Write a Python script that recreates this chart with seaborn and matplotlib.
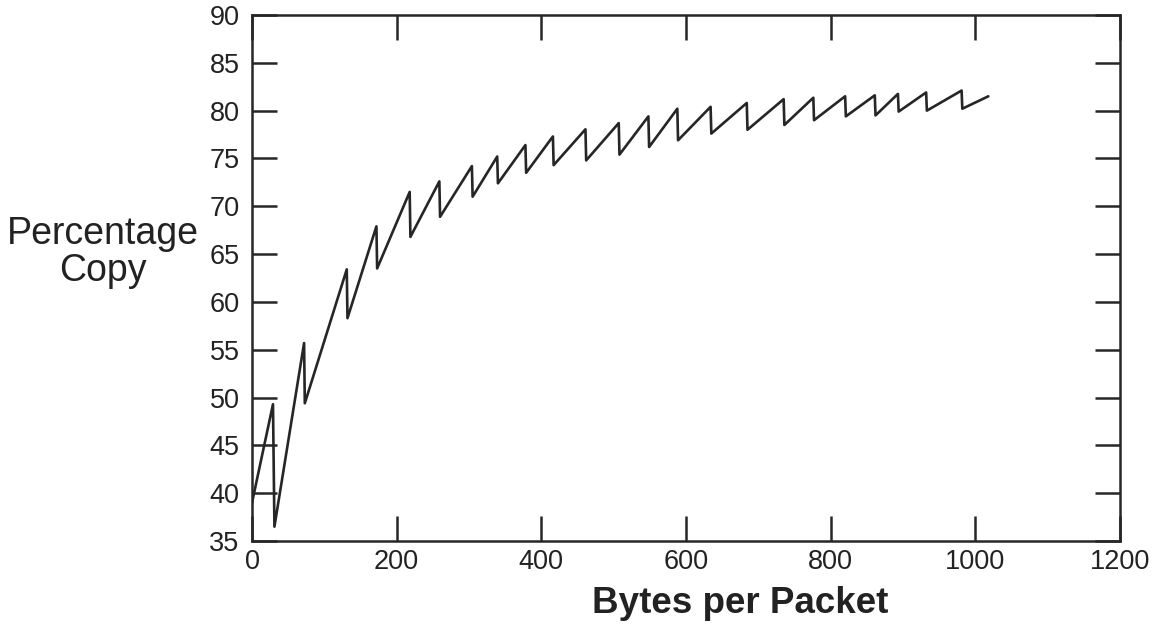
import matplotlib
matplotlib.use("Agg")
import matplotlib.pyplot as plt
import seaborn as sns
import pandas as pd

# Data (sawtooth: rise to a peak, then near-vertical drop)
bytes_per_packet = [0, 29, 31, 72, 73, 131, 132, 172, 173, 218, 219, 259, 260,
                    304, 305, 339, 340, 378, 379, 416, 417, 461, 462, 507, 508,
                    548, 549, 588, 589, 634, 635, 684, 685, 735, 736, 776, 777,
                    820, 821, 861, 862, 893, 894, 932, 933, 981, 982, 1018]
percentage_copy = [39.0, 49.3, 36.5, 55.7, 49.4, 63.4, 58.3, 67.9, 63.5, 71.5, 66.8,
                   72.6, 68.9, 74.2, 71.0, 75.2, 72.4, 76.4, 73.5, 77.3, 74.3,
                   78.05, 74.8, 78.7, 75.4, 79.4, 76.2, 80.2, 76.9, 80.4, 77.6,
                   80.8, 78.0, 81.2, 78.5, 81.35, 79.0, 81.5, 79.4, 81.6, 79.5,
                   81.75, 79.9, 81.9, 80.0, 82.1, 80.2, 81.5]

x_ticks = [0, 200, 400, 600, 800, 1000, 1200]
y_ticks = [35, 40, 45, 50, 55, 60, 65, 70, 75, 80, 85, 90]

df = pd.DataFrame({"Bytes": bytes_per_packet, "Pct": percentage_copy})

sns.set_theme(style="white")
plt.rcParams["font.family"] = ["Liberation Sans", "DejaVu Sans"]

fig = plt.figure(figsize=(11.53, 6.25), dpi=100)
ax = fig.add_axes([252 / 1153, 1 - 541 / 625, (1120 - 252) / 1153, (541 - 15) / 625])

ink = "#262626"
sns.lineplot(data=df, x="Bytes", y="Pct", sort=False, estimator=None,
             color=ink, linewidth=1.9, ax=ax)

ax.set_xlim(0, 1200)
ax.set_ylim(35, 90)
ax.set_xticks(x_ticks)
ax.set_yticks(y_ticks)
ax.set_xticklabels([str(v) for v in x_ticks])
ax.set_yticklabels([str(v) for v in y_ticks])

for side in ["left", "right", "top", "bottom"]:
    ax.spines[side].set_visible(True)
    ax.spines[side].set_color(ink)
    ax.spines[side].set_linewidth(1.8)

ax.tick_params(axis="both", which="major", direction="in", length=18, width=1.8,
               color=ink, labelsize=19.5, labelcolor="#222222")
ax.tick_params(axis="x", top=True, bottom=True, pad=6)
ax.tick_params(axis="y", left=True, right=True, pad=9)

ax.set_xlabel("Bytes per Packet", fontsize=26.5, fontweight="bold", color="#222222")
ax.xaxis.set_label_coords(0.563, -0.118)
ax.xaxis.label.set_va("center")

ax.set_ylabel("Percentage\nCopy", fontsize=27, rotation=0, color="#222222",
              ha="center", va="center", linespacing=1.05)
ax.yaxis.set_label_coords(-0.1717, 0.549)

ax.grid(False)
fig.savefig("out.png", dpi=100, facecolor="white")
